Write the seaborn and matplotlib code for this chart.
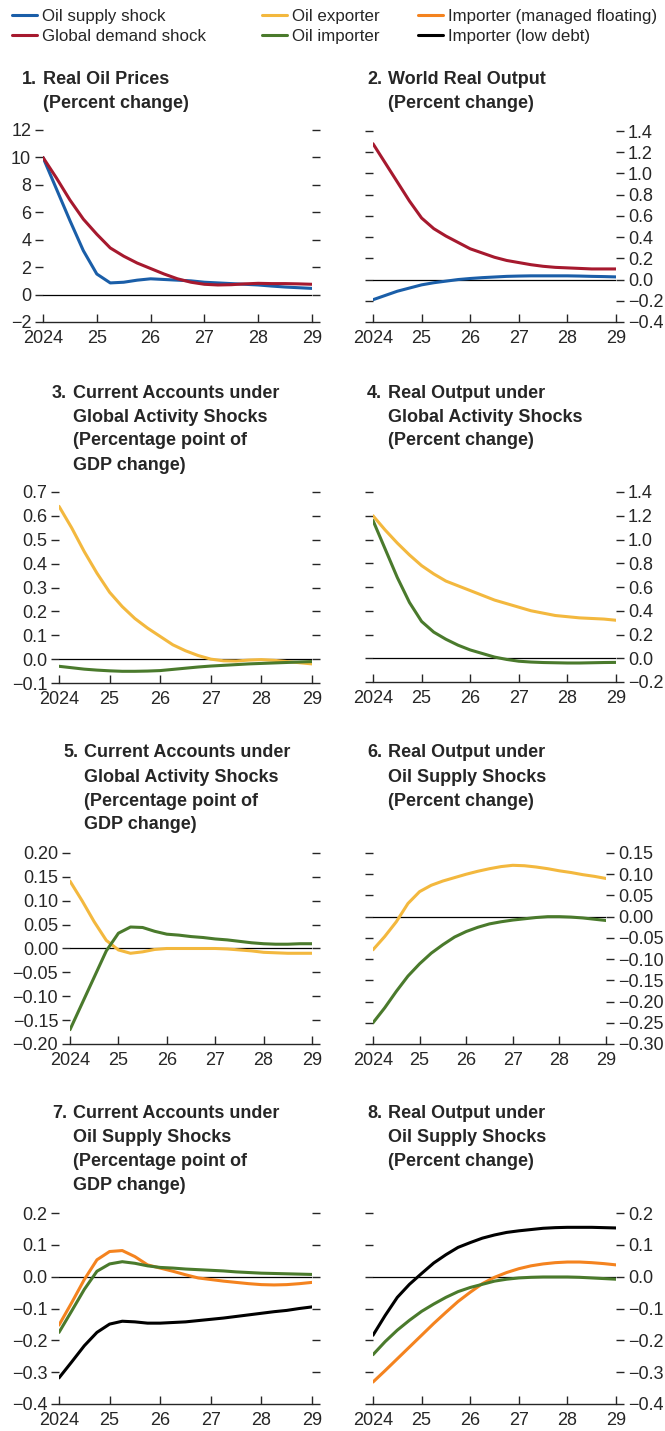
import numpy as np
import pandas as pd
import matplotlib
matplotlib.use("Agg")
import matplotlib.pyplot as plt
import seaborn as sns
from matplotlib.ticker import FuncFormatter

# quarters from 2024 to 2029
quarters = np.linspace(2024, 2029, 21)
year_ticks = [2024, 2025, 2026, 2027, 2028, 2029]
year_labels = ["2024", "25", "26", "27", "28", "29"]

# 1. Real oil prices
p1_supply = [10, 7.7, 5.4, 3.2, 1.5, 0.85, 0.9, 1.05, 1.15, 1.1, 1.05, 1.0, 0.9, 0.85, 0.8, 0.75, 0.7, 0.62, 0.55, 0.5, 0.45]
p1_demand = [10, 8.5, 6.9, 5.5, 4.4, 3.4, 2.8, 2.3, 1.9, 1.5, 1.15, 0.9, 0.75, 0.7, 0.72, 0.78, 0.82, 0.8, 0.8, 0.78, 0.75]
# 2. World real output
p2_supply = [-0.19, -0.15, -0.11, -0.08, -0.05, -0.03, -0.015, 0.0, 0.01, 0.018, 0.024, 0.03, 0.033, 0.035, 0.035, 0.035, 0.035, 0.033, 0.03, 0.028, 0.025]
p2_demand = [1.28, 1.1, 0.92, 0.74, 0.58, 0.48, 0.41, 0.35, 0.29, 0.25, 0.21, 0.18, 0.16, 0.14, 0.125, 0.115, 0.11, 0.105, 0.1, 0.1, 0.1]
# 3. Current accounts, global activity shocks
p3_exporter = [0.64, 0.55, 0.45, 0.36, 0.28, 0.22, 0.17, 0.13, 0.095, 0.06, 0.035, 0.015, 0.0, -0.007, -0.008, -0.004, -0.002, -0.005, -0.01, -0.015, -0.02]
p3_importer = [-0.03, -0.036, -0.042, -0.046, -0.049, -0.051, -0.051, -0.05, -0.048, -0.043, -0.038, -0.033, -0.029, -0.026, -0.023, -0.02, -0.018, -0.016, -0.014, -0.012, -0.01]
# 4. Real output, global activity shocks
p4_exporter = [1.2, 1.08, 0.97, 0.87, 0.78, 0.71, 0.65, 0.61, 0.57, 0.53, 0.49, 0.46, 0.43, 0.40, 0.38, 0.36, 0.35, 0.34, 0.335, 0.33, 0.32]
p4_importer = [1.16, 0.92, 0.68, 0.47, 0.31, 0.22, 0.16, 0.11, 0.07, 0.04, 0.01, -0.01, -0.025, -0.032, -0.036, -0.038, -0.04, -0.04, -0.038, -0.036, -0.035]
# 5. Current accounts, global activity shocks
p5_exporter = [0.141, 0.10, 0.056, 0.017, -0.003, -0.01, -0.007, -0.002, 0.0, 0.0, 0.0, 0.0, 0.0, -0.001, -0.003, -0.005, -0.008, -0.009, -0.01, -0.01, -0.01]
p5_importer = [-0.17, -0.115, -0.06, -0.005, 0.032, 0.045, 0.044, 0.036, 0.03, 0.028, 0.025, 0.023, 0.02, 0.018, 0.015, 0.012, 0.01, 0.009, 0.009, 0.01, 0.01]
# 6. Real output, oil supply shocks
p6_exporter = [-0.078, -0.047, -0.012, 0.031, 0.059, 0.074, 0.084, 0.092, 0.10, 0.107, 0.113, 0.118, 0.121, 0.12, 0.117, 0.113, 0.108, 0.104, 0.099, 0.095, 0.09]
p6_importer = [-0.25, -0.215, -0.176, -0.14, -0.111, -0.086, -0.066, -0.048, -0.035, -0.025, -0.017, -0.012, -0.008, -0.005, -0.002, 0.0, 0.0, -0.001, -0.003, -0.006, -0.009]
# 7. Current accounts, oil supply shocks
p7_managed = [-0.152, -0.082, -0.009, 0.053, 0.079, 0.082, 0.063, 0.037, 0.027, 0.017, 0.006, -0.004, -0.009, -0.014, -0.018, -0.022, -0.025, -0.026, -0.025, -0.022, -0.018]
p7_importer = [-0.175, -0.108, -0.04, 0.017, 0.04, 0.047, 0.042, 0.034, 0.029, 0.027, 0.024, 0.022, 0.02, 0.018, 0.015, 0.013, 0.011, 0.01, 0.009, 0.008, 0.007]
p7_lowdebt = [-0.318, -0.268, -0.217, -0.175, -0.149, -0.14, -0.142, -0.146, -0.146, -0.144, -0.142, -0.138, -0.134, -0.13, -0.125, -0.12, -0.115, -0.11, -0.106, -0.1, -0.095]
# 8. Real output, oil supply shocks
p8_lowdebt = [-0.184, -0.122, -0.065, -0.024, 0.01, 0.043, 0.069, 0.092, 0.107, 0.121, 0.131, 0.139, 0.144, 0.148, 0.152, 0.154, 0.155, 0.155, 0.155, 0.154, 0.153]
p8_managed = [-0.331, -0.295, -0.258, -0.221, -0.184, -0.147, -0.112, -0.078, -0.049, -0.022, -0.002, 0.013, 0.025, 0.034, 0.04, 0.044, 0.046, 0.046, 0.044, 0.041, 0.037]
p8_importer = [-0.245, -0.204, -0.168, -0.137, -0.109, -0.086, -0.065, -0.047, -0.034, -0.024, -0.014, -0.008, -0.004, -0.002, -0.001, -0.001, -0.001, -0.002, -0.004, -0.006, -0.008]

colors = {
    "Oil supply shock": "#1a5ea8",
    "Global demand shock": "#a6192e",
    "Oil exporter": "#f3b83e",
    "Oil importer": "#4a7a2c",
    "Importer (managed floating)": "#f4831f",
    "Importer (low debt)": "#000000",
}

sns.set_theme(style="ticks")
plt.rcParams["font.family"] = ["Liberation Sans", "DejaVu Sans"]

W, H = 665, 1431
TICK_FS = 13
TITLE_FS = 13
fig = plt.figure(figsize=(W / 100, H / 100), dpi=100)


def make_ax(x0, x1, ytop, ybot):
    return fig.add_axes([x0 / W, 1 - ybot / H, (x1 - x0) / W, (ybot - ytop) / H])


def tick_fmt(fmt):
    def f(v, pos):
        if abs(v) < 1e-9:
            v = 0.0
        return (fmt % v).replace("-", "\u2212")
    return FuncFormatter(f)


panels = [
    # number, title lines, series, yticks, fmt, side, box (x0, x1, ytop, ybot), title x, title y
    ("1.", ["Real Oil Prices", "(Percent change)"],
     {"Oil supply shock": p1_supply, "Global demand shock": p1_demand},
     np.arange(-2, 13, 2), "%d", "left", (43, 312, 130, 322), 22, 80),
    ("2.", ["World Real Output", "(Percent change)"],
     {"Oil supply shock": p2_supply, "Global demand shock": p2_demand},
     np.arange(-0.4, 1.41, 0.2), "%.1f", "right", (373, 616, 131, 322), 367, 80),
    ("3.", ["Current Accounts under", "Global Activity Shocks", "(Percentage point of", "GDP change)"],
     {"Oil exporter": p3_exporter, "Oil importer": p3_importer},
     np.arange(-0.1, 0.71, 0.1), "%.1f", "left", (59, 312, 492, 683), 52, 393),
    ("4.", ["Real Output under", "Global Activity Shocks", "(Percent change)"],
     {"Oil exporter": p4_exporter, "Oil importer": p4_importer},
     np.arange(-0.2, 1.41, 0.2), "%.1f", "right", (373, 616, 492, 682), 367, 393),
    ("5.", ["Current Accounts under", "Global Activity Shocks", "(Percentage point of", "GDP change)"],
     {"Oil exporter": p5_exporter, "Oil importer": p5_importer},
     np.arange(-0.2, 0.201, 0.05), "%.2f", "left", (70, 312, 853, 1044), 63, 753),
    ("6.", ["Real Output under", "Oil Supply Shocks", "(Percent change)"],
     {"Oil exporter": p6_exporter, "Oil importer": p6_importer},
     np.arange(-0.3, 0.151, 0.05), "%.2f", "right", (373, 606, 853, 1044), 367, 753),
    ("7.", ["Current Accounts under", "Oil Supply Shocks", "(Percentage point of", "GDP change)"],
     {"Importer (managed floating)": p7_managed, "Oil importer": p7_importer,
      "Importer (low debt)": p7_lowdebt},
     np.arange(-0.4, 0.21, 0.1), "%.1f", "left", (59, 312, 1213, 1404), 52, 1113),
    ("8.", ["Real Output under", "Oil Supply Shocks", "(Percent change)"],
     {"Importer (low debt)": p8_lowdebt, "Importer (managed floating)": p8_managed,
      "Oil importer": p8_importer},
     np.arange(-0.4, 0.21, 0.1), "%.1f", "right", (373, 616, 1213, 1404), 367, 1113),
]

for num, lines, series, yticks, fmt, side, box, tx, ty in panels:
    x0, x1, ytop, ybot = box
    yticks = np.round(yticks, 3)
    ax = make_ax(x0, x1, ytop, ybot)
    df = pd.DataFrame(
        [(q, name, v) for name, vals in series.items() for q, v in zip(quarters, vals)],
        columns=["year", "series", "value"],
    )
    ax.axhline(0, color="black", lw=0.9, zorder=1)
    sns.lineplot(data=df, x="year", y="value", hue="series", palette=colors,
                 lw=2.2, legend=False, ax=ax, zorder=3)
    ax.set_xlim(2024, 2029)
    ax.set_ylim(yticks[0], yticks[-1])
    ax.set_yticks(yticks)
    ax.yaxis.set_major_formatter(tick_fmt(fmt))
    ax.set_xticks(year_ticks)
    ax.set_xticklabels(year_labels)
    ax.set_xlabel("")
    ax.set_ylabel("")
    sns.despine(ax=ax, left=True)
    ax.spines["bottom"].set_linewidth(1.0)
    ax.tick_params(axis="x", direction="in", length=6, width=1, labelsize=TICK_FS, pad=6)
    ax.tick_params(axis="y", direction="out", length=6, width=1, labelsize=TICK_FS,
                   left=True, right=True,
                   labelleft=(side == "left"), labelright=(side == "right"),
                   pad=2.5)
    # title with hanging indent, one text per line
    fig.text(tx / W, 1 - ty / H, num, fontsize=TITLE_FS, fontweight="bold",
             ha="left", va="center")
    for k, line in enumerate(lines):
        fig.text((tx + 21) / W, 1 - (ty + 24 * k) / H, line, fontsize=TITLE_FS,
                 fontweight="bold", ha="left", va="center")

# legend: three columns placed separately
names = list(colors.keys())
col_x = [12, 262, 418]
for c, x in enumerate(col_x):
    pair = names[2 * c:2 * c + 2]
    handles = [plt.Line2D([], [], color=colors[n], lw=2.2) for n in pair]
    fig.legend(handles, pair, loc="upper left",
               bbox_to_anchor=(x / W, 1 - 9 / H), frameon=False, fontsize=12.2,
               handlelength=1.5, handletextpad=0.3,
               labelspacing=0.3, borderpad=0, borderaxespad=0)

fig.savefig("out.png", dpi=100)
